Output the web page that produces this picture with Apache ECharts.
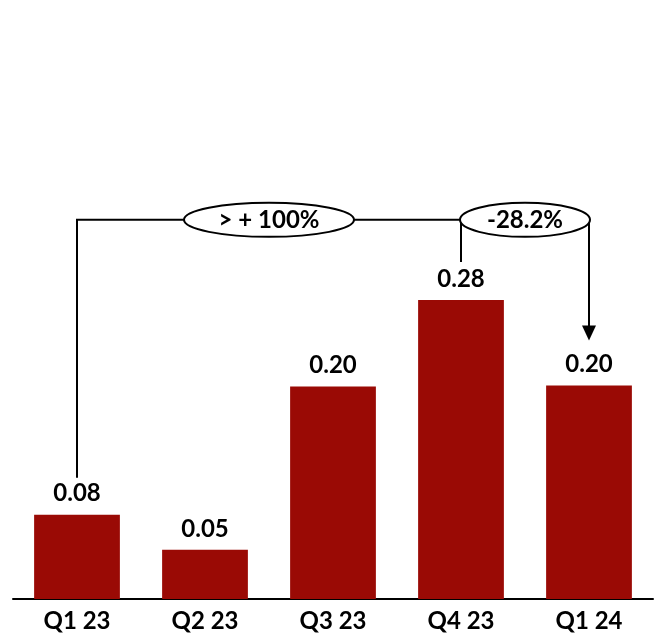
<!DOCTYPE html>
<html><head><meta charset="utf-8">
<script src="https://cdn.jsdelivr.net/npm/echarts@6/dist/echarts.min.js"></script>
<style>html,body{margin:0;padding:0;background:#fff}#c{width:654px;height:642px}</style>
</head><body><div id="c"></div>
<script>
const categories = ['Q1 23', 'Q2 23', 'Q3 23', 'Q4 23', 'Q1 24'];
const values = [0.079, 0.046, 0.199, 0.280, 0.200];
const changeLabels = ['> + 100%', '-28.2%'];

const FONT = 'Lato, "Open Sans", sans-serif';
const chart = echarts.init(document.getElementById('c'));
chart.setOption({
  animation: false,
  grid: { left: 13, right: 1, top: 65, bottom: 43 },
  xAxis: {
    type: 'category', data: categories,
    axisLine: { show: true, lineStyle: { color: '#000', width: 2 } },
    axisTick: { show: false },
    axisLabel: { color: '#000', fontSize: 24, fontWeight: 'bold', fontFamily: FONT, margin: 10 }
  },
  yAxis: { type: 'value', min: 0, max: 0.5, show: false, splitLine: { show: false } },
  series: [{
    type: 'bar', data: values, barWidth: '67%',
    itemStyle: { color: '#9a0a05' },
    label: { show: true, position: 'top', distance: 9, color: '#000', fontSize: 24, fontWeight: 'bold', fontFamily: FONT,
      formatter: p => p.value.toFixed(2) }
  }]
});

function px(i, v) { return chart.convertToPixel({ xAxisIndex: 0, yAxisIndex: 0 }, [i, v]); }
const bracketY = px(0, 0.355)[1];
const gap = 37;
const p0 = px(0, values[0]), p3 = px(3, values[3]), p4 = px(4, values[4]);
const tip = p4[1] - 45;
const ls = { stroke: '#000', lineWidth: 2 };
const e1x = (p0[0] + p3[0]) / 2, e2x = (p3[0] + p4[0]) / 2;
chart.setOption({
  graphic: [
    { type: 'polyline', shape: { points: [[p0[0], p0[1] - gap], [p0[0], bracketY], [p4[0], bracketY], [p4[0], tip - 14]] }, style: Object.assign({ fill: null }, ls), z: 10 },
    { type: 'line', shape: { x1: p3[0], y1: bracketY, x2: p3[0], y2: p3[1] - 38 }, style: ls, z: 10 },
    { type: 'polygon', shape: { points: [[p4[0] - 7, tip - 15], [p4[0] + 7, tip - 15], [p4[0], tip]] }, style: { fill: '#000' }, z: 10 },
    { type: 'ellipse', shape: { cx: e1x, cy: bracketY, rx: 85, ry: 17 }, style: { fill: '#fff', stroke: '#000', lineWidth: 2 }, z: 20 },
    { type: 'text', x: e1x, y: bracketY, style: { text: changeLabels[0], align: 'center', verticalAlign: 'middle', font: 'bold 24px ' + FONT, fill: '#000' }, z: 30 },
    { type: 'ellipse', shape: { cx: e2x, cy: bracketY, rx: 65, ry: 17 }, style: { fill: '#fff', stroke: '#000', lineWidth: 2 }, z: 20 },
    { type: 'text', x: e2x, y: bracketY, style: { text: changeLabels[1], align: 'center', verticalAlign: 'middle', font: 'bold 24px ' + FONT, fill: '#000' }, z: 30 }
  ]
});
</script></body></html>
